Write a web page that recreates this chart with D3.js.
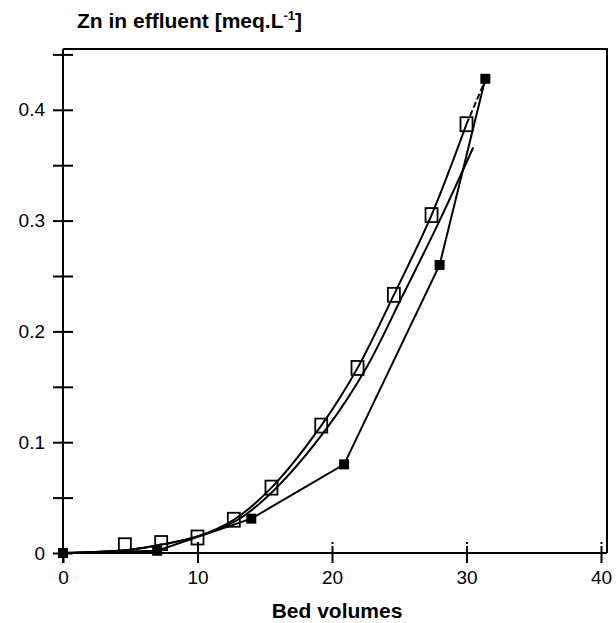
<!DOCTYPE html>
<html>
<head>
<meta charset="utf-8">
<script src="https://cdn.jsdelivr.net/npm/d3@7"></script>
<style>
  body { margin: 0; background: #fff; }
  text { font-family: "Liberation Sans", Arial, sans-serif; fill: #000; }
</style>
</head>
<body>
<div id="chart"></div>
<script>
// open squares (measured)
var openX = [4.6, 7.3, 10.0, 12.7, 15.5, 19.2, 21.9, 24.6, 27.4, 30.0];
var openY = [0.007, 0.009, 0.014, 0.030, 0.059, 0.115, 0.167, 0.233, 0.305, 0.387];
// filled squares (measured)
var fillX = [0, 7.0, 14.0, 20.9, 28.0, 31.4];
var fillY = [0, 0.002, 0.031, 0.080, 0.260, 0.428];
// smooth curve through the open squares
var fitAX = [0, 5.0, 7.5, 10.0, 12.7, 15.5, 19.2, 21.9, 24.6, 27.4, 30.0];
var fitAY = [0, 0.003, 0.008, 0.015, 0.030, 0.059, 0.115, 0.167, 0.233, 0.305, 0.387];
var tailX = [30.0, 31.3];
var tailY = [0.387, 0.424];
// second (model) curve, slightly to the right
var fitBX = [0, 5.0, 7.5, 10.0, 13.0, 15.8, 19.7, 22.5, 25.2, 28.0, 30.5];
var fitBY = [0, 0.003, 0.008, 0.015, 0.030, 0.058, 0.114, 0.166, 0.231, 0.300, 0.366];
var xTicks = [0, 10, 20, 30, 40];
var yTicks = [0, 0.05, 0.1, 0.15, 0.2, 0.25, 0.3, 0.35, 0.4, 0.45];
var yLabels = [0, 0.1, 0.2, 0.3, 0.4];

var svg = d3.select("#chart")
  .append("svg")
  .attr("width", 616)
  .attr("height", 623);

var x = d3.scaleLinear().domain([0, 40]).range([63, 601]),
    y = d3.scaleLinear().domain([0, 0.45]).range([553, 54.4]);

// frame
svg.append("path")
  .attr("d", "M63,49 L607,49 L607,553")
  .attr("fill", "none")
  .attr("stroke", "#000")
  .attr("stroke-width", 2);

// y axis
var yAxis = svg.append("g")
  .attr("transform", "translate(63,0)")
  .call(d3.axisLeft(y).tickValues(yTicks).tickSize(10)
    .tickFormat(d => yLabels.indexOf(d) >= 0 ? (d === 0 ? "0" : d3.format(".1f")(d)) : ""));
yAxis.select(".domain").remove();
yAxis.selectAll(".tick line").attr("x1", -10).attr("x2", 10).attr("stroke-width", 2);
yAxis.selectAll(".tick text")
  .attr("x", -18)
  .style("font-size", "19px")
  .style("font-family", "Liberation Sans, Arial, sans-serif");
svg.append("line")
  .attr("x1", 63).attr("x2", 63).attr("y1", 49).attr("y2", 563)
  .attr("stroke", "#000").attr("stroke-width", 2);

// x axis
var xAxis = svg.append("g")
  .attr("transform", "translate(0,553)")
  .call(d3.axisBottom(x).tickValues(xTicks).tickSize(10));
xAxis.select(".domain").remove();
xAxis.selectAll(".tick line")
  .attr("y1", d => d === 0 ? 0 : -11)
  .attr("y2", 10)
  .attr("stroke-width", 2)
  .attr("stroke-dasharray", d => d >= 20 ? "2,2,40" : null);
xAxis.selectAll(".tick text")
  .attr("y", 18)
  .style("font-size", "19px")
  .style("font-family", "Liberation Sans, Arial, sans-serif");
svg.append("line")
  .attr("x1", 63).attr("x2", 607).attr("y1", 553).attr("y2", 553)
  .attr("stroke", "#000").attr("stroke-width", 2);

// titles
var title = svg.append("text")
  .attr("x", 77).attr("y", 28)
  .style("font-size", "21px")
  .style("font-weight", "bold");
title.append("tspan").text("Zn in effluent [meq.L");
title.append("tspan").attr("dy", -8).style("font-size", "13px").text("-1");
title.append("tspan").attr("dy", 8).text("]");

svg.append("text")
  .attr("x", 337).attr("y", 618)
  .attr("text-anchor", "middle")
  .style("font-size", "21px")
  .style("font-weight", "bold")
  .text("Bed volumes");

// lines
function pts(xs, ys) { return xs.map((v, i) => [v, ys[i]]); }
var smooth = d3.line().x(d => x(d[0])).y(d => y(d[1])).curve(d3.curveCatmullRom);
var straight = d3.line().x(d => x(d[0])).y(d => y(d[1]));

svg.append("path")
  .attr("d", smooth(pts(fitBX, fitBY)))
  .attr("fill", "none").attr("stroke", "#000").attr("stroke-width", 2);

svg.append("path")
  .attr("d", smooth(pts(fitAX, fitAY)))
  .attr("fill", "none").attr("stroke", "#000").attr("stroke-width", 2);

svg.append("path")
  .attr("d", straight(pts(tailX, tailY)))
  .attr("fill", "none").attr("stroke", "#000").attr("stroke-width", 2)
  .attr("stroke-dasharray", "6,3");

svg.append("path")
  .attr("d", straight(pts(fillX, fillY)))
  .attr("fill", "none").attr("stroke", "#000").attr("stroke-width", 2);

// markers
svg.selectAll(".open")
  .data(pts(openX, openY))
  .enter()
  .append("rect")
  .attr("class", "open")
  .attr("x", d => x(d[0]) - 6)
  .attr("y", d => y(d[1]) - 7)
  .attr("width", 12)
  .attr("height", 14)
  .attr("fill", "none")
  .attr("stroke", "#000")
  .attr("stroke-width", 1.8);

svg.selectAll(".filled")
  .data(pts(fillX, fillY))
  .enter()
  .append("rect")
  .attr("class", "filled")
  .attr("x", d => x(d[0]) - 5)
  .attr("y", d => y(d[1]) - 5)
  .attr("width", 10)
  .attr("height", 10)
  .attr("fill", "#000");
</script>
</body>
</html>
